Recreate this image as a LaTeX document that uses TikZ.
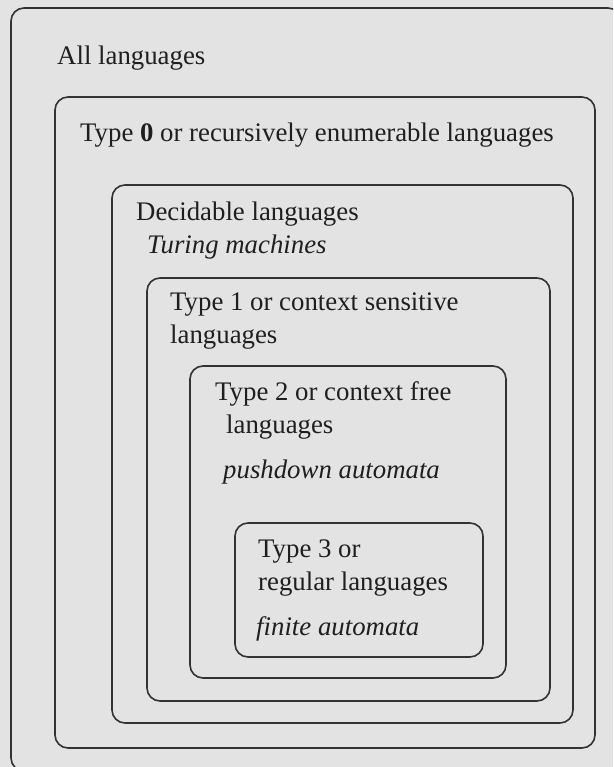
\documentclass[tikz,border=0pt]{standalone}
\usepackage{fontspec}
\setmainfont{Liberation Serif}
\begin{document}
\begin{tikzpicture}[x=1pt,y=-1pt,
  box/.style={draw=black!80,line width=1.6pt,rounded corners=13pt},
  lbl/.style={anchor=base west,inner sep=0pt,font=\fontsize{26.8}{30}\selectfont,text=black!88},
  ilbl/.style={lbl,font=\fontsize{26.8}{30}\selectfont\itshape}]
\useasboundingbox (0,0) rectangle (613,767);
\fill[fill=black!11] (0,0) rectangle (613,767);
\clip (0,0) rectangle (613,767);
\draw[box] (11,8) rectangle (621,771);
\draw[box] (55,97) rectangle (595,748);
\draw[box] (112,185) rectangle (573,723);
\draw[box] (147,278) rectangle (550,701);
\draw[box] (190,366) rectangle (506,678);
\draw[box] (235,523) rectangle (483,657);
\node[lbl] (all) at (57,65) {All languages};
\node[lbl] (t0) at (80,142) {Type \textbf{0} or recursively enumerable languages};
\node[lbl] (dec) at (136,220) {Decidable languages};
\node[ilbl] (tm) at (147,253) {Turing machines};
\node[lbl] (t1a) at (170,310) {Type 1 or context sensitive};
\node[lbl] (t1b) at (170,343) {languages};
\node[lbl] (t2a) at (215,400) {Type 2 or context free};
\node[lbl] (t2b) at (226,433) {languages};
\node[ilbl] (pda) at (223,478) {pushdown automata};
\node[lbl] (t3a) at (258,557) {Type 3 or};
\node[lbl] (t3b) at (258,590) {regular languages};
\node[ilbl] (fa) at (256,635) {finite automata};
\end{tikzpicture}
\end{document}
